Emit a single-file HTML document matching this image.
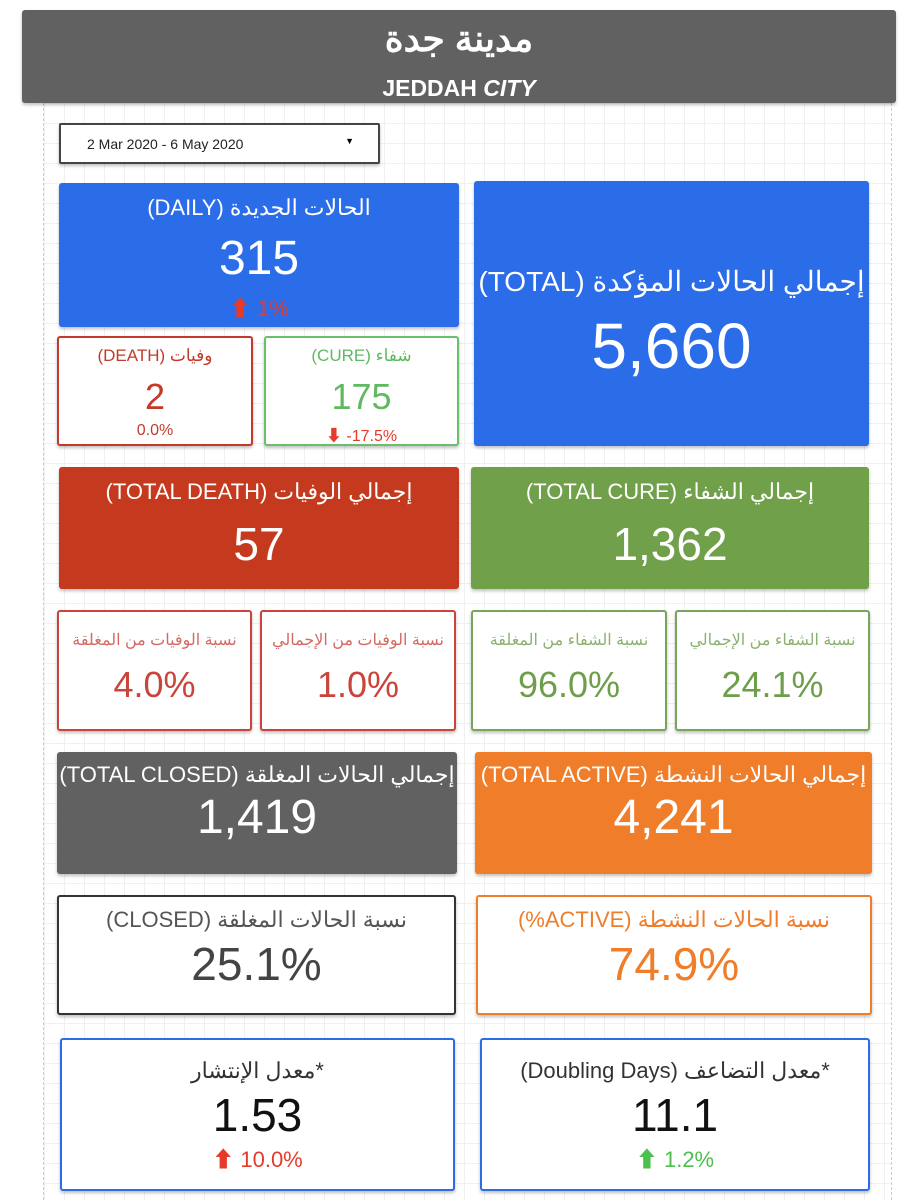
<!DOCTYPE html>
<html><head><meta charset="utf-8">
<style>
body{margin:0;width:911px;height:1200px;background:#fff;position:relative;overflow:hidden;font-family:"Liberation Sans","Noto Sans CJK SC",sans-serif;}
.grid{position:absolute;left:43px;top:103px;width:847px;height:1097px;border-left:1px dashed #ccc;border-right:1px dashed #ccc;
background-image:linear-gradient(#f0f0f0 1px,transparent 1px),linear-gradient(90deg,#f0f0f0 1px,transparent 1px);background-size:20px 20px;}
.b{position:absolute;box-sizing:border-box;text-align:center;border-radius:3px;box-shadow:0 2px 3px rgba(0,0,0,.25);}
.t{position:absolute;left:0;right:0;white-space:nowrap;}
.r{direction:rtl;unicode-bidi:embed;}
</style></head><body>
<div class="grid"></div>
<div class="b" style="left:22px;top:10px;width:874px;height:93px;background:#616161;color:#fff">
<div class="t" style="top:8px;font-size:36px;font-weight:bold">مدينة جدة</div>
<div class="t" style="top:65px;font-size:23px;font-weight:bold">JEDDAH <i>CITY</i></div></div>
<div class="b" style="left:59px;top:123px;width:321px;height:41px;border:2px solid #444;background:#fff;text-align:left;border-radius:2px">
<span style="position:absolute;left:26px;top:11px;font-size:14px;color:#222">2 Mar 2020 - 6 May 2020</span><span style="position:absolute;right:24px;top:11px;font-size:9px">▼</span></div>

<div class="b" style="left:59px;top:183px;width:400px;height:144px;background:#2b6de8;color:#fff">
<div class="t r" style="top:12px;font-size:22px">الحالات الجديدة (DAILY)</div>
<div class="t" style="top:48px;font-size:48px">315</div>
<div class="t" style="top:108px;font-size:22px;color:#e63a2a">⬆ 1%</div></div>
<div class="b" style="left:474px;top:181px;width:395px;height:265px;background:#2b6de8;color:#fff">
<div class="t r" style="top:84px;font-size:28px">إجمالي الحالات المؤكدة (TOTAL)</div>
<div class="t" style="top:128px;font-size:64px">5,660</div></div>
<div class="b" style="left:57px;top:336px;width:196px;height:110px;border:2px solid #c5392a;background:#fff;color:#c5392a">
<div class="t r" style="top:8px;font-size:17px">وفيات (DEATH)</div>
<div class="t" style="top:38px;font-size:36px">2</div>
<div class="t" style="top:84px;font-size:16px">0.0%</div></div>
<div class="b" style="left:264px;top:336px;width:195px;height:110px;border:2px solid #6ac06a;background:#fff;color:#5fb95f">
<div class="t r" style="top:8px;font-size:17px">شفاء (CURE)</div>
<div class="t" style="top:38px;font-size:36px">175</div>
<div class="t" style="top:84px;font-size:16px;color:#e63a2a">⬇ -17.5%</div></div>

<div class="b" style="left:59px;top:467px;width:400px;height:122px;background:#c53a1e;color:#fff">
<div class="t r" style="top:12px;font-size:22px">إجمالي الوفيات (TOTAL DEATH)</div>
<div class="t" style="top:50px;font-size:46px">57</div></div>
<div class="b" style="left:471px;top:467px;width:398px;height:122px;background:#70a04a;color:#fff">
<div class="t r" style="top:12px;font-size:22px">إجمالي الشفاء (TOTAL CURE)</div>
<div class="t" style="top:50px;font-size:46px">1,362</div></div>

<div class="b" style="left:57px;top:610px;width:195px;height:121px;border:2px solid #c9443a;background:#fff;color:#c9443a">
<div class="t r" style="top:18px;font-size:16px;opacity:.8">نسبة الوفيات من المغلقة</div>
<div class="t" style="top:52px;font-size:36px">4.0%</div></div>
<div class="b" style="left:260px;top:610px;width:196px;height:121px;border:2px solid #c9443a;background:#fff;color:#c9443a">
<div class="t r" style="top:18px;font-size:16px;opacity:.8">نسبة الوفيات من الإجمالي</div>
<div class="t" style="top:52px;font-size:36px">1.0%</div></div>
<div class="b" style="left:471px;top:610px;width:196px;height:121px;border:2px solid #79a55a;background:#fff;color:#6e9e4c">
<div class="t r" style="top:18px;font-size:16px;opacity:.8">نسبة الشفاء من المغلقة</div>
<div class="t" style="top:52px;font-size:36px">96.0%</div></div>
<div class="b" style="left:675px;top:610px;width:195px;height:121px;border:2px solid #79a55a;background:#fff;color:#6e9e4c">
<div class="t r" style="top:18px;font-size:16px;opacity:.8">نسبة الشفاء من الإجمالي</div>
<div class="t" style="top:52px;font-size:36px">24.1%</div></div>

<div class="b" style="left:57px;top:752px;width:400px;height:122px;background:#616161;color:#fff">
<div class="t r" style="top:10px;font-size:22px">إجمالي الحالات المغلقة (TOTAL CLOSED)</div>
<div class="t" style="top:38px;font-size:48px">1,419</div></div>
<div class="b" style="left:475px;top:752px;width:397px;height:122px;background:#ef7d2a;color:#fff">
<div class="t r" style="top:10px;font-size:22px">إجمالي الحالات النشطة (TOTAL ACTIVE)</div>
<div class="t" style="top:38px;font-size:48px">4,241</div></div>

<div class="b" style="left:57px;top:895px;width:399px;height:120px;border:2px solid #333;background:#fff;color:#444">
<div class="t r" style="top:10px;font-size:22px;color:#555">نسبة الحالات المغلقة (CLOSED)</div>
<div class="t" style="top:40px;font-size:46px">25.1%</div></div>
<div class="b" style="left:476px;top:895px;width:396px;height:120px;border:2px solid #ef7d2a;background:#fff;color:#ef7d2a">
<div class="t r" style="top:10px;font-size:22px">نسبة الحالات النشطة (ACTIVE%)</div>
<div class="t" style="top:40px;font-size:46px">74.9%</div></div>

<div class="b" style="left:60px;top:1038px;width:395px;height:153px;border:2px solid #2b6de8;background:#fff;color:#111">
<div class="t r" style="top:18px;font-size:22px;color:#333">*معدل الإنتشار</div>
<div class="t" style="top:48px;font-size:46px">1.53</div>
<div class="t" style="top:102px;font-size:22px;color:#e63a2a">⬆ 10.0%</div></div>
<div class="b" style="left:480px;top:1038px;width:390px;height:153px;border:2px solid #2b6de8;background:#fff;color:#111">
<div class="t r" style="top:18px;font-size:22px;color:#333">*معدل التضاعف (Doubling Days)</div>
<div class="t" style="top:48px;font-size:46px">11.1</div>
<div class="t" style="top:102px;font-size:22px;color:#4cc04c">⬆ 1.2%</div></div>
</body></html>
